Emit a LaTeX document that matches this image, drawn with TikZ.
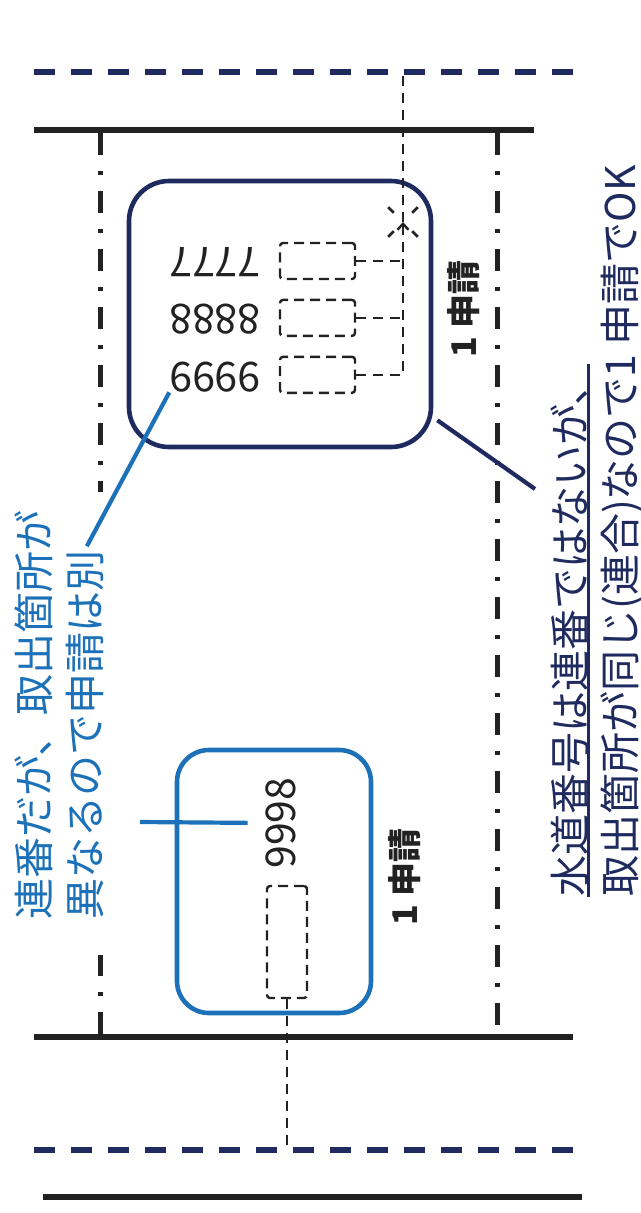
\documentclass[tikz,border=0pt]{standalone}
\usepackage{fontspec}
\setmainfont{Noto Sans CJK JP}
\usepackage{xcolor}
\newlength{\mdist}
\usetikzlibrary{positioning}
\usetikzlibrary{arrows.meta}
\usetikzlibrary{calc}
\definecolor{navy}{HTML}{1F2A5E}
\definecolor{tapblue}{HTML}{1C71B8}
\definecolor{ink}{HTML}{222222}
\tikzstyle{wall}=[draw=ink, line width=6pt]
\tikzstyle{mainline}=[draw=navy, line width=5.5pt, dash pattern=on 21pt off 16pt]
\tikzstyle{lotline}=[draw=ink, line width=5pt, dash pattern=on 22pt off 16pt on 4pt off 16pt]
\tikzstyle{pipe}=[draw=ink, line width=2.6pt, dash pattern=on 10pt off 7pt]
\tikzstyle{meter}=[draw=ink, rectangle, rounded corners=3pt, line width=2.4pt, dash pattern=on 10pt off 6pt]
\tikzstyle{lot}=[draw, rectangle, rounded corners=40pt, line width=4.6pt]
\tikzstyle{num}=[font=\fontsize{41}{41}\selectfont, text=ink, inner sep=0pt]
\tikzstyle{appl}=[font=\fontsize{34}{34}\selectfont\bfseries, text=ink, rotate=90, inner sep=0pt]
\tikzstyle{note}=[font=\fontsize{41}{41}\selectfont, rotate=90, anchor=base west, inner sep=0pt]
\tikzstyle{callout}=[line width=4.2pt]

\begin{document}
\begin{tikzpicture}[x=1pt, y=1pt]
\useasboundingbox (0,0) rectangle (640,-1213);

\setlength{\mdist}{18.5pt}

% road
\draw[mainline] (34,-72) -- (573,-72);
\draw[wall] (34,-130) -- (534,-130);
\draw[wall] (34,-1037) -- (573,-1037);
\draw[mainline] (34,-1150) -- (573,-1150);
\draw[wall] (43,-1197) -- (582,-1197);

% lot boundaries
\draw[lotline] (100,-133) -- (100,-492);
\draw[lotline] (100,-1034) -- (100,-955);
\draw[lotline] (497,-133) -- (497,-1034);

\node (grpA) [lot, draw=navy, minimum width=302pt, minimum height=266pt] at (280,-314) {};
\node (grpB) [lot, draw=tapblue, rounded corners=32pt, minimum width=194pt, minimum height=263pt] at (274,-881.5) {};

\node (n7) [num, rotate=180] at (215,-262) {7777};
\node (n8) [num, rotate=180] at (215,-319) {8888};
\node (n9) [num, rotate=180] at (215,-377) {9999};
\node (n98) [num, rotate=90] at (281,-823) {9998};

\node (m7) [meter, minimum width=75pt, minimum height=36pt] at (317.5,-261) {};
\node (m8) [meter, minimum width=75pt, minimum height=36pt, below=\mdist of m7] {};
\node (m9) [meter, minimum width=75pt, minimum height=36pt, below=\mdist of m8] {};
\node (m98) [meter, minimum width=40pt, minimum height=112pt] at (287,-942) {};

\coordinate (tap) at (403,-222);
\coordinate (mainA) at (403,-72);
\coordinate (mainB) at (287,-1150);

\draw[pipe] (m7.east) -- (m7.east -| tap);
\draw[pipe] (m8.east) -- (m8.east -| tap);
\draw[pipe, -{Straight Barb[length=6pt, width=11pt, line width=2.4pt]}] (m9.east) -- (m9.east -| tap) -- (tap);
\draw[pipe] (tap) -- (mainA);
\foreach \a in {45,135,225,315}
  \draw[ink, line width=2.6pt] ($(tap)+(\a:13)$) -- ($(tap)+(\a:21)$);
\draw[pipe] (m98.south) -- (mainB);

\node (a1) [appl] at (464,-309) {1 申請};
\node (a2) [appl] at (405,-877) {1 申請};

\node (noteL1) [note, text=tapblue] at (49,-920) {連番だが、取出箇所が};
\node (noteL2) [note, text=tapblue] at (100,-920) {異なるので申請は別};

\node (noteR1) [note, text=navy] at (585,-897) {水道番号は連番ではないが、};
\node (noteR2) [note, text=navy] at (635,-897) {取出箇所が同じ(連合)なので1 申請でOK};
\draw[navy, line width=3.5pt] (noteR1.south west) -- (noteR1.south east);

\coordinate (calloutR) at (535,-489);
\coordinate (callout98) at (140,-822);
\draw[callout, tapblue, shorten >=5pt] (n9.north east) -- (noteL2.east);
\draw[callout, tapblue, shorten >=18pt] (callout98) -- (n98.north);
\draw[callout, navy, shorten <=5pt] (grpA.-34) -- (calloutR);
\end{tikzpicture}
\end{document}
